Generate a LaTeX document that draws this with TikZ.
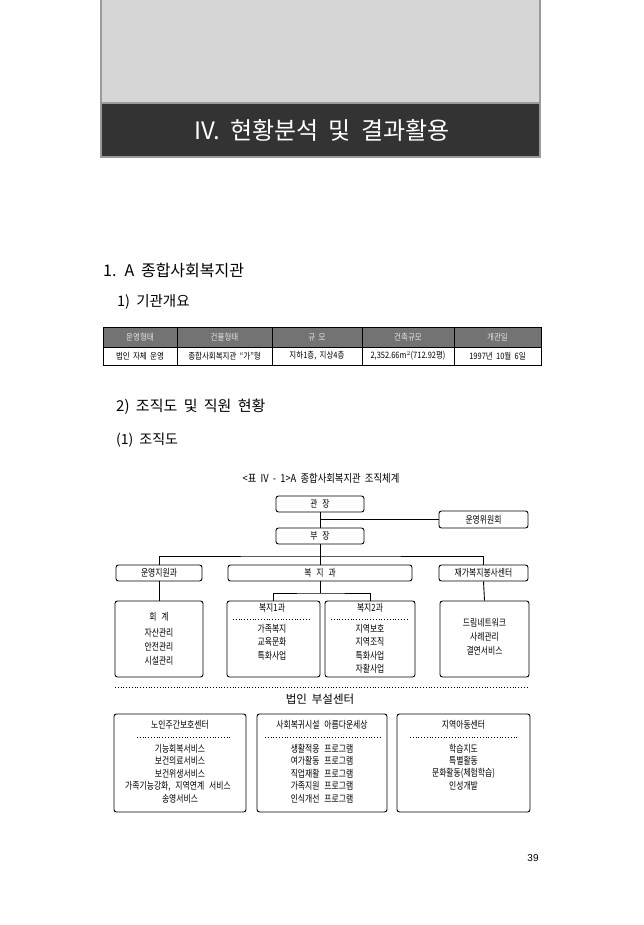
\documentclass[tikz,border=0pt]{standalone}
\usepackage{fontspec}
\setmainfont{Noto Sans CJK KR}
\newfontfamily\kr[WordSpace=2.4]{Noto Sans CJK KR}
\newfontfamily\krh[WordSpace=1.9]{Noto Sans CJK KR}
\newfontfamily\krn[FakeStretch=0.79,WordSpace=2.8]{Noto Sans CJK KR}
\newfontfamily\krt[FakeStretch=0.85,WordSpace=2]{Noto Sans CJK KR}
\newfontfamily\krc[FakeStretch=0.85,WordSpace=2]{Noto Sans CJK KR}
\newfontfamily\numf{Liberation Sans}
\definecolor{bandgray}{HTML}{D6D6D6}
\definecolor{banddark}{HTML}{333333}
\definecolor{edgegray}{HTML}{9A9A9A}
\definecolor{headgray}{HTML}{737373}
\definecolor{headtext}{HTML}{E4E4E4}
\tikzset{
  orgbox/.style={draw, rounded corners=2.5pt, line width=0.9pt, inner sep=0pt},
  ctext/.style={font=\krn\fontsize{9.9}{11}\selectfont, inner sep=0pt, align=center},
  sep/.style={dotted, line width=0.8pt},
  conn/.style={line width=0.9pt},
  thead/.style={font=\krt\fontsize{8.8}{10}\selectfont, text=headtext, inner sep=0pt},
  tcell/.style={font=\krt\fontsize{8.8}{10}\selectfont, inner sep=0pt},
}
\begin{document}
\begin{tikzpicture}[x=1pt,y=-1pt]
\useasboundingbox (0,0) rectangle (643,925);
% top band
\fill[bandgray] (101,0) rectangle (540,103);
\fill[banddark] (101,103) rectangle (540,157);
\draw[edgegray, line width=1.6pt] (101,0) -- (101,157) -- (540,157) -- (540,0);
\draw[edgegray, line width=1.2pt] (101,103) -- (540,103);
\node[text=white, font=\krh\fontsize{24}{28}\selectfont, inner sep=0pt] (title) at (322,130) {IV. 현황분석 및 결과활용};
% headings
\node[anchor=west, font=\kr\fontsize{16}{20}\selectfont, inner sep=0pt] (h1) at (103,270) {1. A 종합사회복지관};
\node[anchor=west, font=\kr\fontsize{14.5}{18}\selectfont, inner sep=0pt] (h2) at (117,302) {1) 기관개요};
\node[anchor=west, font=\kr\fontsize{15}{18}\selectfont, inner sep=0pt] (h3) at (116,407) {2) 조직도 및 직원 현황};
\node[anchor=west, font=\kr\fontsize{14}{18}\selectfont, inner sep=0pt] (h4) at (116,440) {(1) 조직도};
% table
\fill[headgray] (103,327) rectangle (541,347);
\draw[line width=0.8pt] (103,327) rectangle (541,365);
\draw[line width=0.8pt] (103,347) -- (541,347);
\foreach \x in {177,272,362,454} \draw[line width=0.8pt] (\x,327) -- (\x,365);
\node[thead] (th1) at (140,337) {운영형태};
\node[thead] (th2) at (224.5,337) {건물형태};
\node[thead] (th3) at (317,337) {규 모};
\node[thead] (th4) at (408,337) {건축규모};
\node[thead] (th5) at (497.5,337) {개관일};
\node[tcell] (td1) at (140,356) {법인 자체 운영};
\node[tcell] (td2) at (224.5,356) {종합사회복지관 “가”형};
\node[tcell] (td3) at (317,356) {지하1층, 지상4층};
\node[tcell] (td4) at (408,356) {2,352.66m$^2$(712.92평)};
\node[tcell] (td5) at (497.5,356) {1997년 10월 6일};
% caption
\node[font=\krc\fontsize{11}{13}\selectfont, inner sep=0pt] (cap) at (321,478) {<표 IV - 1>A 종합사회복지관 조직체계};
% org boxes
\node[orgbox, minimum width=88pt, minimum height=16pt] (gwan) at (320,504) {};
\node[ctext] at (gwan) {관 장};
\node[orgbox, minimum width=89pt, minimum height=17pt] (wiw) at (483.5,519.5) {};
\node[ctext] at (wiw) {운영위원회};
\node[orgbox, minimum width=88pt, minimum height=16pt] (bu) at (320,536) {};
\node[ctext] at (bu) {부 장};
\node[orgbox, minimum width=86pt, minimum height=16pt] (unji) at (159,573) {};
\node[ctext] at (unji) {운영지원과};
\node[orgbox, minimum width=184pt, minimum height=16pt] (bokji) at (320,573) {};
\node[ctext] at (bokji) {복 지 과};
\node[orgbox, minimum width=89pt, minimum height=16pt] (jaega) at (483.5,573) {};
\node[ctext] at (jaega) {재가복지봉사센터};
\draw[conn] (gwan.south) -- (bu.north);
\draw[conn] (gwan.south |- wiw.west) -- (wiw.west);
\coordinate (bus) at (320,556);
\draw[conn] (bu.south) -- (bus);
\draw[conn] (unji.north) |- (bus) -| (jaega.north);
\draw[conn] (bus) -- (bokji.north);
% second level
\node[orgbox, minimum width=88pt, minimum height=76pt] (hoe) at (159,639) {};
\node[orgbox, minimum width=93pt, minimum height=76pt] (bk1) at (273.5,639) {};
\node[orgbox, minimum width=90pt, minimum height=76pt] (bk2) at (370,639) {};
\node[orgbox, minimum width=89pt, minimum height=76pt] (dream) at (484.5,639) {};
\coordinate (bsplit) at (320,593);
\draw[conn] (unji.south) -- (hoe.north);
\draw[conn] (bokji.south) -- (bsplit);
\draw[conn] (bk1.north) |- (bsplit) -| (bk2.north);
\draw[conn] (jaega.south) -- (dream.north);
\node[ctext] at (159,617) {회 계};
\node[ctext] at (159,633) {자산관리};
\node[ctext] at (159,647) {안전관리};
\node[ctext] at (159,660.5) {시설관리};
\node[ctext] at (272,608) {복지1과};
\draw[sep] (233,619) -- (310,619);
\node[ctext] at (272,628.5) {가족복지};
\node[ctext] at (272,642) {교육문화};
\node[ctext] at (272,655.5) {특화사업};
\node[ctext] at (370,608) {복지2과};
\draw[sep] (331,619) -- (407,619);
\node[ctext] at (370,628.5) {지역보호};
\node[ctext] at (370,642) {지역조직};
\node[ctext] at (370,655.5) {특화사업};
\node[ctext] at (370,669) {자활사업};
\node[ctext] at (484.5,623) {드림네트워크};
\node[ctext] at (484.5,637) {사례관리};
\node[ctext] at (484.5,651) {결연서비스};
% separator
\draw[sep] (115,687) -- (529,687);
\node[font=\kr\fontsize{11.5}{14}\selectfont, inner sep=0pt] (bub) at (320,699) {법인 부설센터};
% bottom boxes
\node[orgbox, minimum width=132pt, minimum height=98pt] (noin) at (180,763) {};
\node[orgbox, minimum width=130pt, minimum height=98pt] (sahoe) at (322,763) {};
\node[orgbox, minimum width=133pt, minimum height=98pt] (adong) at (463.5,763) {};
\node[ctext] at (180,725) {노인주간보호센터};
\draw[sep] (137,737) -- (232,737);
\node[ctext] at (180,748.5) {기능회복서비스};
\node[ctext] at (180,761) {보건의료서비스};
\node[ctext] at (180,773.5) {보건위생서비스};
\node[ctext] at (178,786) {가족기능강화, 지역연계 서비스};
\node[ctext] at (180,798.5) {송영서비스};
\node[ctext] at (322,725) {사회복귀시설 아름다운세상};
\draw[sep] (265,737) -- (380,737);
\node[ctext] at (322,748.5) {생활적응 프로그램};
\node[ctext] at (322,761) {여가활동 프로그램};
\node[ctext] at (322,773.5) {직업재활 프로그램};
\node[ctext] at (322,786) {가족지원 프로그램};
\node[ctext] at (322,798.5) {인식개선 프로그램};
\node[ctext] at (463.5,725) {지역아동센터};
\draw[sep] (410,737) -- (517,737);
\node[ctext] at (463.5,748.5) {학습지도};
\node[ctext] at (463.5,761) {특별활동};
\node[ctext] at (463.5,773.5) {문화활동(체험학습)};
\node[ctext] at (463.5,786) {인성개발};
% page number
\node[font=\numf\fontsize{10}{12}\selectfont, inner sep=0pt] (pg) at (533,858) {39};
\end{tikzpicture}
\end{document}
